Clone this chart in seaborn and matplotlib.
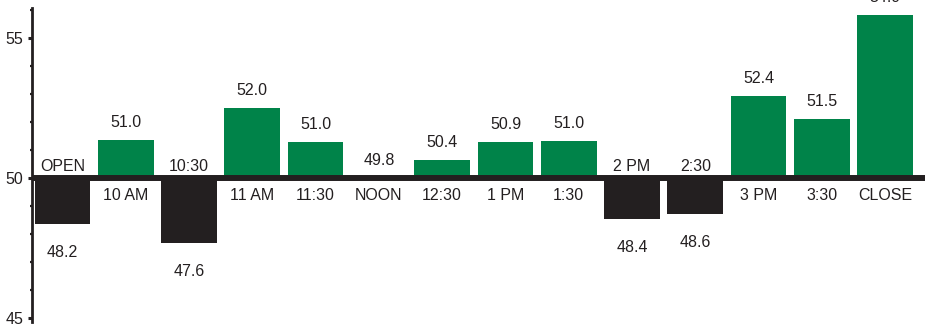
import numpy as np
import pandas as pd
import matplotlib
matplotlib.use("Agg")
import matplotlib.pyplot as plt
import seaborn as sns
from matplotlib.ticker import MultipleLocator

# ---- data ----
categories = ["OPEN", "10 AM", "10:30", "11 AM", "11:30", "NOON", "12:30",
              "1 PM", "1:30", "2 PM", "2:30", "3 PM", "3:30", "CLOSE"]
# bar ends as drawn in the chart
bar_tops = [48.35, 51.37, 47.67, 52.51, 51.29, 50.0, 50.66,
            51.30, 51.33, 48.52, 48.70, 52.94, 52.12, 55.82]
# printed value labels
value_labels = ["48.2", "51.0", "47.6", "52.0", "51.0", "49.8", "50.4",
                "50.9", "51.0", "48.4", "48.6", "52.4", "51.5", "54.9"]
y_ticks = [45, 50, 55]
y_tick_labels = ["45", "50", "55"]
BASE = 50

GREEN = "#008349"
BLACK = "#231f20"

sns.set_theme(style="white")
plt.rcParams["font.family"] = ["Liberation Sans", "DejaVu Sans"]

df = pd.DataFrame({"time": categories,
                   "delta": np.array(bar_tops) - BASE})
df["dir"] = np.where(df["delta"] >= 0, "up", "down")

fig = plt.figure(figsize=(9.25, 3.26), dpi=100)
ax = fig.add_axes([32 / 925, 4 / 326, 893 / 925, 314 / 326])

sns.barplot(data=df, x="time", y="delta", hue="dir", order=categories,
            palette={"up": GREEN, "down": BLACK}, dodge=False, width=0.88,
            legend=False, bottom=BASE, linewidth=0, saturation=1,
            errorbar=None, ax=ax)

ax.set_xlim(-0.482, 13.63)
ax.set_ylim(44.86, 56.07)

sns.despine(ax=ax, top=True, right=True, bottom=True, left=False)
ax.spines["left"].set_color(BLACK)
ax.spines["left"].set_linewidth(2)

ax.set_yticks(y_ticks, labels=y_tick_labels)
ax.yaxis.set_minor_locator(MultipleLocator(1))
ax.tick_params(axis="y", which="major", left=True, direction="out",
               length=3.2, width=2.2, color=BLACK, labelsize=11.5,
               labelcolor=BLACK, pad=3)
ax.tick_params(axis="y", which="minor", left=True, direction="out",
               length=1.6, width=1.6, color=BLACK)
ax.tick_params(axis="x", bottom=False, labelbottom=False)
ax.set_xlabel("")
ax.set_ylabel("")
ax.grid(False)

ax.axhline(BASE, color=BLACK, lw=4.3, zorder=3)

for i, (cat, top, lab) in enumerate(zip(categories, bar_tops, value_labels)):
    up = top >= BASE
    if up:
        ax.annotate(lab, (i, top), xytext=(0, 12.5), textcoords="offset points",
                    ha="center", va="center", fontsize=11.5, color=BLACK,
                    annotation_clip=False)
        ax.annotate(cat, (i, BASE), xytext=(0, -12.5), textcoords="offset points",
                    ha="center", va="center", fontsize=11.5, color=BLACK)
    else:
        ax.annotate(lab, (i, top), xytext=(0, -20), textcoords="offset points",
                    ha="center", va="center", fontsize=11.5, color=BLACK)
        ax.annotate(cat, (i, BASE), xytext=(0, 8.4), textcoords="offset points",
                    ha="center", va="center", fontsize=11.5, color=BLACK)

fig.savefig("out.png", dpi=100)
